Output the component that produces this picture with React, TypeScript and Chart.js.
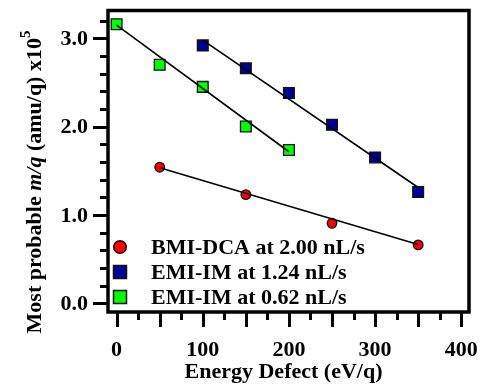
import React, { useEffect, useRef } from 'react';
import { Chart, registerables } from 'chart.js';

Chart.register(...registerables);

// ---------- data ----------
const seriesNames = ['BMI-DCA at 2.00 nL/s', 'EMI-IM at 1.24 nL/s', 'EMI-IM at 0.62 nL/s'];
const seriesColors = ['#ff0000', '#000099', '#00ff00'];

const bmiX = [50, 150, 250, 350];
const bmiY = [1.54, 1.23, 0.905, 0.66];

const emi124X = [100, 150, 200, 250, 300, 350];
const emi124Y = [2.92, 2.66, 2.38, 2.02, 1.65, 1.26];

const emi062X = [0, 50, 100, 150, 200];
const emi062Y = [3.16, 2.7, 2.45, 2.0, 1.735];

// fitted lines (end points)
const bmiFitX = [50, 350];
const bmiFitY = [1.535, 0.665];
const emi124FitX = [100, 350];
const emi124FitY = [2.98, 1.31];
const emi062FitX = [0, 200];
const emi062FitY = [3.15, 1.715];

const xTickLabels = [0, 100, 200, 300, 400];
const yTickLabels = [0.0, 1.0, 2.0, 3.0];
const xMinorStep = 25;
const xMajorStep = 50;
const yMinorStep = 0.2;
const yMajorStep = 1.0;

const xTitle = 'Energy Defect (eV/q)';

const FONT = '"Liberation Serif", "Times New Roman", serif';
const FS = 22;

function pts(xs: number[], ys: number[]) {
  return xs.map((x, i) => ({ x, y: ys[i] }));
}

const decorPlugin = {
  id: 'decor',
  afterDatasetsDraw(chart: any) {
    const ctx: CanvasRenderingContext2D = chart.ctx;
    const xs = chart.scales.x;
    const ys = chart.scales.y;
    const a = chart.chartArea;
    ctx.save();
    ctx.fillStyle = '#000';
    ctx.strokeStyle = '#000';

    // ticks
    ctx.lineWidth = 3;
    ctx.lineCap = 'butt';
    for (let v = 0; v <= xs.max + 1e-6; v += xMinorStep) {
      const px = Math.round(xs.getPixelForValue(v)) + 0.5;
      const major = Math.abs(v / xMajorStep - Math.round(v / xMajorStep)) < 1e-6;
      ctx.beginPath();
      ctx.moveTo(px, a.bottom);
      ctx.lineTo(px, a.bottom + (major ? 15 : 8));
      ctx.stroke();
    }
    for (let v = 0; v <= ys.max + 1e-6; v += yMinorStep) {
      const py = Math.round(ys.getPixelForValue(v)) + 0.5;
      const major = Math.abs(v / yMajorStep - Math.round(v / yMajorStep)) < 1e-6;
      ctx.beginPath();
      ctx.moveTo(a.left, py);
      ctx.lineTo(a.left - (major ? 15 : 8), py);
      ctx.stroke();
    }

    // frame
    ctx.lineWidth = 3.5;
    ctx.strokeRect(a.left, a.top, a.right - a.left, a.bottom - a.top);

    // tick labels
    ctx.font = `bold ${FS}px ` + FONT;
    ctx.textAlign = 'center';
    ctx.textBaseline = 'alphabetic';
    xTickLabels.forEach((v) => {
      ctx.fillText(String(v), xs.getPixelForValue(v), 356);
    });
    ctx.textAlign = 'right';
    ctx.textBaseline = 'middle';
    yTickLabels.forEach((v) => {
      ctx.fillText(v.toFixed(1), 88, ys.getPixelForValue(v) + 1);
    });

    // x title
    ctx.textAlign = 'center';
    ctx.textBaseline = 'alphabetic';
    ctx.fillText(xTitle, (a.left + a.right) / 2 - 5, 378);

    // y title with italic part and superscript
    const segs = [
      { t: 'Most probable ', f: `bold ${FS}px ` + FONT, dy: 0 },
      { t: 'm/q', f: `italic bold ${FS}px ` + FONT, dy: 0 },
      { t: ' (amu/q) x10', f: `bold ${FS}px ` + FONT, dy: 0 },
      { t: '5', f: 'bold 15px ' + FONT, dy: -11 },
    ];
    ctx.save();
    ctx.translate(41, 0);
    ctx.rotate(-Math.PI / 2);
    ctx.textAlign = 'left';
    ctx.textBaseline = 'alphabetic';
    let total = 0;
    segs.forEach((s) => {
      ctx.font = s.f;
      total += ctx.measureText(s.t).width;
    });
    let cx = -182 - total / 2;
    segs.forEach((s) => {
      ctx.font = s.f;
      ctx.fillText(s.t, cx, s.dy);
      cx += ctx.measureText(s.t).width;
    });
    ctx.restore();

    // legend
    const rows = [247, 272, 297];
    const mx = 120;
    ctx.font = `bold ${FS}px ` + FONT;
    ctx.textAlign = 'left';
    ctx.textBaseline = 'middle';
    rows.forEach((ry, i) => {
      ctx.fillStyle = seriesColors[i];
      ctx.strokeStyle = '#111';
      ctx.lineWidth = 1.5;
      ctx.beginPath();
      if (i === 0) {
        ctx.arc(mx, ry, 6.3, 0, Math.PI * 2);
      } else {
        ctx.rect(mx - 6.5, ry - 6.5, 13, 13);
      }
      ctx.fill();
      ctx.stroke();
      ctx.fillStyle = '#000';
      ctx.fillText(seriesNames[i], 151, ry + 1);
    });

    ctx.restore();
  },
};

export default function App() {
  const ref = useRef<HTMLCanvasElement>(null);
  useEffect(() => {
    if (!ref.current) return;
    const lineDs = (xs: number[], ys: number[]) => ({
      type: 'line' as const,
      data: pts(xs, ys),
      borderColor: '#000',
      borderWidth: 1.6,
      pointRadius: 0,
      showLine: true,
      fill: false,
      tension: 0,
    });
    const markDs = (xs: number[], ys: number[], i: number, style: string, r: number) => ({
      type: 'scatter' as const,
      label: seriesNames[i],
      data: pts(xs, ys),
      pointStyle: style,
      pointRadius: r,
      backgroundColor: seriesColors[i],
      borderColor: '#111',
      borderWidth: 1.3,
      showLine: false,
    });
    const chart = new Chart(ref.current, {
      type: 'scatter',
      data: {
        datasets: [
          lineDs(bmiFitX, bmiFitY),
          lineDs(emi124FitX, emi124FitY),
          lineDs(emi062FitX, emi062FitY),
          markDs(bmiX, bmiY, 0, 'circle', 4.8),
          markDs(emi124X, emi124Y, 1, 'rect', 7.6),
          markDs(emi062X, emi062Y, 2, 'rect', 7.6),
        ] as any,
      },
      options: {
        animation: false,
        responsive: false,
        devicePixelRatio: 1,
        layout: { padding: { left: 108, right: 13, top: 10.5, bottom: 72 } },
        scales: {
          x: { type: 'linear', display: false, min: -10, max: 409 },
          y: { type: 'linear', display: false, min: -0.1, max: 3.315 },
        },
        plugins: { legend: { display: false }, tooltip: { enabled: false } },
      },
      plugins: [decorPlugin],
    });
    return () => chart.destroy();
  }, []);
  return (
    <div style={{ position: 'absolute', left: 0, top: 0, width: 482, height: 384, background: '#fff' }}>
      <canvas ref={ref} width={482} height={384} style={{ width: 482, height: 384, display: 'block' }} />
    </div>
  );
}
